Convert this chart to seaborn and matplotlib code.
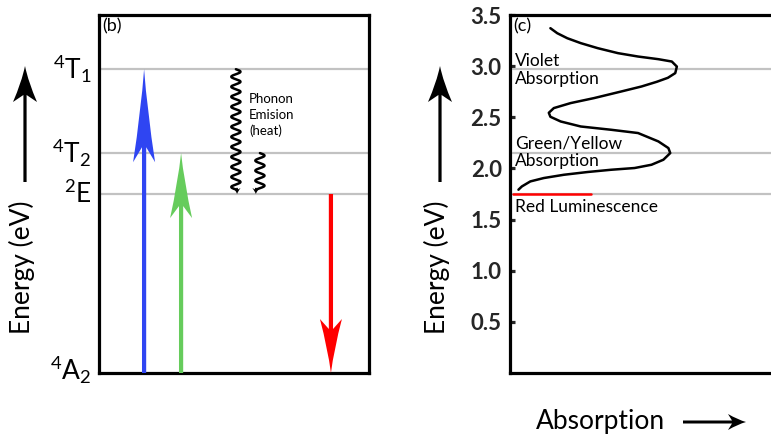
import numpy as np
import matplotlib
matplotlib.use("Agg")
import matplotlib.pyplot as plt
import seaborn as sns
from matplotlib.path import Path
from matplotlib.patches import PathPatch
from matplotlib.transforms import IdentityTransform

# ---- data -------------------------------------------------------------
level_labels = [r"$^4$T$_1$", r"$^4$T$_2$", r"$^2$E", r"$^4$A$_2$"]
level_energy = [2.97, 2.15, 1.75, 0.0]          # eV

# optical transitions in the level diagram (x position, from, to, colour)
trans_x = [0.167, 0.304, 0.859]
trans_from = [0.0, 0.0, 1.75]
trans_to = [2.97, 2.15, 0.0]
trans_color = ["#2f45f2", "#66cc5c", "#ff0000"]

# non-radiative (phonon) relaxation
phonon_x = [0.507, 0.596]
phonon_from = [2.97, 2.15]
phonon_to = [1.75, 1.75]

# absorption spectrum (arb. units vs energy in eV)
absorb = [0.153, 0.179, 0.217, 0.268, 0.332, 0.409, 0.485, 0.562, 0.613,
          0.632, 0.626, 0.598, 0.556, 0.498, 0.421, 0.319, 0.230, 0.166,
          0.147, 0.153, 0.192, 0.268, 0.383, 0.485, 0.562, 0.600, 0.607,
          0.581, 0.536, 0.472, 0.383, 0.294, 0.204, 0.128, 0.077, 0.045,
          0.032]
energy = [3.371, 3.322, 3.273, 3.225, 3.176, 3.127, 3.094, 3.068, 3.045,
          2.996, 2.932, 2.886, 2.847, 2.801, 2.752, 2.688, 2.639, 2.590,
          2.544, 2.505, 2.459, 2.410, 2.378, 2.346, 2.264, 2.199, 2.150,
          2.085, 2.036, 2.004, 1.987, 1.965, 1.938, 1.906, 1.873, 1.824,
          1.792]
lum_energy = 1.75
lum_extent = 0.307
yticks = [0.5, 1.0, 1.5, 2.0, 2.5, 3.0, 3.5]
ytick_labels = ["0.5", "1.0", "1.5", "2.0", "2.5", "3.0", "3.5"]

# ---- style ------------------------------------------------------------
sns.set_theme(style="white")
plt.rcParams["font.family"] = ["Lato", "DejaVu Sans"]
plt.rcParams["mathtext.fontset"] = "custom"
plt.rcParams["mathtext.rm"] = "Lato"
plt.rcParams["mathtext.it"] = "Lato"

W, H = 771, 438
fig = plt.figure(figsize=(W / 100, H / 100), dpi=100)
fig.patch.set_facecolor("white")
axL = fig.add_axes([99 / W, 65 / H, 270 / W, 358 / H])
axR = fig.add_axes([510 / W, 65 / H, 264 / W, 358 / H])

for ax in (axL, axR):
    ax.set_ylim(0, 3.5)
    ax.set_xlim(0, 1)
    ax.set_facecolor("white")
    for s in ax.spines.values():
        s.set_linewidth(2.3)
        s.set_color("black")
axR.spines["right"].set_visible(False)

GRAY = "#c2c2c2"


def arrow(p0, p1, head_len, head_w, notch, shaft_w, color, **kw):
    """Draw a swept-back arrow between two display points (pixels)."""
    p0 = np.asarray(p0, float)
    p1 = np.asarray(p1, float)
    d = p1 - p0
    u = d / np.hypot(*d)
    n = np.array([-u[1], u[0]])
    base = p1 - u * head_len
    nt = base + u * notch
    s = shaft_w / 2
    hw = head_w / 2
    c1 = p1 - u * head_len * 0.45 + n * hw * 0.28
    c2 = p1 - u * head_len * 0.45 - n * hw * 0.28
    verts = [p0 + n * s, nt + n * s, base + n * hw, c1, p1, c2,
             base - n * hw, nt - n * s, p0 - n * s, p0 + n * s]
    codes = [Path.MOVETO, Path.LINETO, Path.LINETO, Path.CURVE3, Path.CURVE3,
             Path.CURVE3, Path.CURVE3, Path.LINETO, Path.LINETO, Path.CLOSEPOLY]
    patch = PathPatch(Path(verts, codes), facecolor=color, edgecolor="none",
                      transform=IdentityTransform(), clip_on=False, **kw)
    return patch


def fig_px(x, y):
    # pixel position measured from the top-left corner of the figure
    return (x, H - y)


# ---- left panel: level diagram ---------------------------------------
for e in level_energy[:3]:
    axL.axhline(e, color=GRAY, lw=1.6, zorder=1)

for lab, e in zip(level_labels, level_energy):
    yy = e + 0.03 if e == 0 else e
    axL.text(-0.028, yy, lab, transform=axL.get_yaxis_transform(),
             ha="right", va="center", fontsize=19, color="black")

axL.text(0.012, 0.99, "(b)", transform=axL.transAxes, ha="left", va="top",
         fontsize=13, color="black")

head_geom = [(93, 22, 15), (65, 22, 12), (54, 22, 10)]
for x, e0, e1, col, (hl, hw, nt) in zip(trans_x, trans_from, trans_to,
                                         trans_color, head_geom):
    p0 = axL.transData.transform((x, e0))
    p1 = axL.transData.transform((x, e1))
    axL.add_artist(arrow(p0, p1, hl, hw, nt, 4.2, col, zorder=3))

amp = 0.017
wavelength = 0.098
for x, e0, e1 in zip(phonon_x, phonon_from, phonon_to):
    ys = np.linspace(e0, e1 + 0.04, 300)
    xs = x + amp * np.sin(2 * np.pi * (e0 - ys) / wavelength)
    axL.plot(xs, ys, color="black", lw=1.8, zorder=3)
    p0 = axL.transData.transform((xs[-1], e1 + 0.06))
    p1 = axL.transData.transform((xs[-1], e1))
    axL.add_artist(arrow(p0, p1, 6, 7, 1.5, 1.6, "black", zorder=3))

axL.text(0.556, 2.52, "Phonon\nEmision\n(heat)", ha="left", va="center",
         fontsize=9.5, linespacing=1.35, color="black")
axL.set_xticks([])
axL.set_yticks([])

# ---- right panel: absorption spectrum --------------------------------
for e in level_energy[:3]:
    axR.axhline(e, xmin=0.01, color=GRAY, lw=1.6, zorder=1)
axR.plot([0.01, lum_extent], [lum_energy, lum_energy], color="#ff0000",
         lw=1.8, zorder=2)

sns.lineplot(x=absorb, y=energy, sort=False, estimator=None, ax=axR,
             color="black", lw=1.8, zorder=3)

axR.set_yticks(yticks)
axR.set_yticklabels(ytick_labels)
axR.tick_params(axis="y", direction="in", length=3.5, width=2.3, pad=6,
                labelsize=16, left=True)
for t in axR.get_yticklabels():
    t.set_fontweight("bold")
axR.set_xticks([])
axR.set_xlabel("")
axR.set_ylabel("")

axR.text(0.012, 0.99, "(c)", transform=axR.transAxes, ha="left", va="top",
         fontsize=13, color="black")
axR.text(0.018, 2.965, "Violet\nAbsorption", ha="left", va="center",
         fontsize=12.5, linespacing=1.15, color="black")
axR.text(0.018, 2.16, "Green/Yellow\nAbsorption", ha="left", va="center",
         fontsize=12.5, linespacing=1.15, color="black")
axR.text(0.018, 1.62, "Red Luminescence", ha="left", va="center",
         fontsize=12.5, color="black")

# ---- axis captions with arrows ---------------------------------------
fig.text(22 / W, 1 - 267 / H, "Energy (eV)", rotation=90, ha="center",
         va="center", fontsize=19, color="black")
fig.text(437 / W, 1 - 267 / H, "Energy (eV)", rotation=90, ha="center",
         va="center", fontsize=19, color="black")
fig.add_artist(arrow(fig_px(25, 182), fig_px(25, 66), 36, 24, 7, 3.2, "black"))
fig.add_artist(arrow(fig_px(440, 182), fig_px(440, 66), 36, 24, 7, 3.2, "black"))

fig.text(600 / W, 1 - 421 / H, "Absorption", ha="center", va="center",
         fontsize=19, color="black")
fig.add_artist(arrow(fig_px(683, 422), fig_px(746, 422), 18, 16, 4, 3.0, "black"))

fig.savefig("out.png", dpi=100, facecolor="white")
